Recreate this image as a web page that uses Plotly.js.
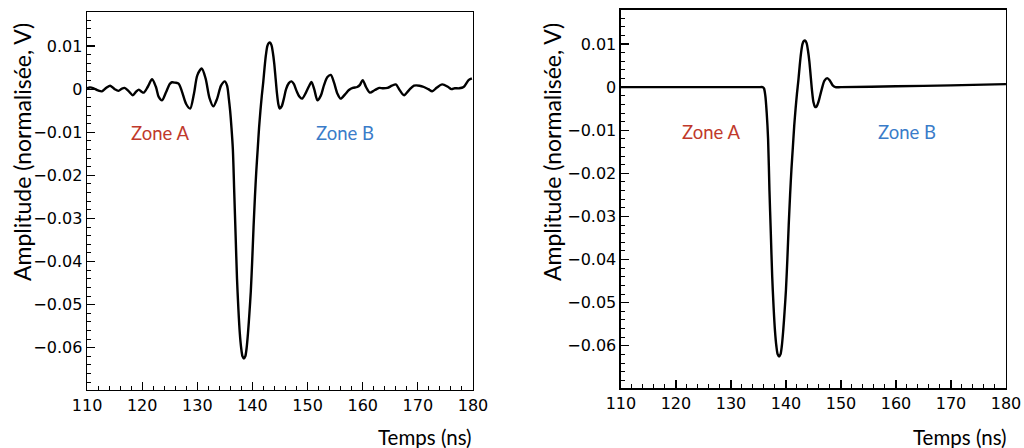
<!DOCTYPE html>
<html>
<head>
<meta charset="utf-8">
<script src="https://cdn.plot.ly/plotly-3.0.1.min.js"></script>
<style>html,body{margin:0;padding:0;background:#fff;}#chart{width:1024px;height:448px;}</style>
</head>
<body>
<div id="chart"></div>
<script>
// Left panel: noisy waveform (time in ns, amplitude in normalised V)
const timeLeft = [110.0,110.5,111.2,112.0,112.7,113.5,114.2,115.0,115.7,116.3,116.8,117.5,118.3,118.9,119.4,119.9,120.3,121.0,121.8,122.5,123.0,123.6,124.3,125.0,125.4,126.0,126.6,127.2,128.0,128.7,129.4,130.0,130.8,131.5,132.2,132.9,133.6,134.3,135.0,135.4,135.7,135.95,136.2,136.45,136.7,136.95,137.2,137.45,137.7,137.95,138.2,138.45,138.7,138.95,139.2,139.45,139.7,139.95,140.2,140.45,140.7,140.95,141.2,141.45,141.7,141.95,142.2,142.45,142.7,142.95,143.2,143.45,143.7,143.95,144.2,144.45,144.7,144.95,145.3,145.7,146.1,146.6,147.1,147.5,148.0,148.5,149.0,149.7,150.3,150.7,151.2,151.8,152.4,153.0,153.6,154.2,154.8,155.4,156.0,156.8,157.5,158.2,159.0,159.5,160.0,160.6,161.3,162.2,163.0,163.7,164.5,165.3,166.0,166.6,167.5,168.4,169.3,170.3,171.1,171.9,172.6,173.4,174.4,175.5,176.1,176.7,177.5,178.3,179.2,179.8,180.0];
const ampLeft = [0.0002,0.0004,0.0002,-0.0003,-0.0005,0.0003,0.0008,0.0000,-0.0004,0.0001,0.0003,-0.0004,-0.0014,-0.0006,-0.0001,-0.0006,-0.0008,0.0005,0.0023,0.0005,-0.0018,-0.0026,-0.0008,0.0012,0.0016,0.0015,0.0013,-0.0005,-0.0035,-0.0045,-0.0010,0.0032,0.0048,0.0025,-0.0020,-0.0040,-0.0022,0.0008,0.0018,0.0008,-0.0020,-0.0050,-0.0090,-0.0140,-0.0240,-0.0340,-0.0440,-0.0510,-0.0565,-0.0600,-0.0620,-0.0625,-0.0620,-0.0600,-0.0565,-0.0520,-0.0470,-0.0400,-0.0320,-0.0250,-0.0190,-0.0140,-0.0090,-0.0050,-0.0015,0.0015,0.0050,0.0080,0.0100,0.0107,0.0108,0.0102,0.0085,0.0060,0.0025,-0.0010,-0.0035,-0.0045,-0.0040,-0.0022,0.0000,0.0014,0.0018,0.0012,-0.0004,-0.0017,-0.0022,-0.0008,0.0008,0.0017,0.0000,-0.0026,-0.0015,0.0010,0.0028,0.0033,0.0015,-0.0010,-0.0022,-0.0012,-0.0002,0.0003,0.0005,0.0010,0.0021,0.0005,-0.0008,-0.0002,0.0003,0.0002,0.0003,0.0008,0.0011,0.0000,-0.0014,-0.0002,0.0008,0.0008,0.0005,0.0000,-0.0005,0.0003,0.0011,0.0005,0.0000,0.0002,0.0002,0.0005,0.0021,0.0025];

// Right panel: clean waveform
const timeRight = [110.0,120.0,130.0,135.0,135.75,136.0,136.25,136.5,136.75,137.0,137.25,137.5,137.75,138.0,138.25,138.5,138.75,139.0,139.25,139.5,139.75,140.0,140.25,140.5,140.75,141.0,141.25,141.5,141.75,142.0,142.25,142.5,142.75,143.0,143.25,143.5,143.75,144.0,144.25,144.5,144.75,145.0,145.25,145.5,145.75,146.0,146.5,147.0,147.5,148.0,148.5,149.0,150.0,160.0,170.0,180.0];
const ampRight = [0.0,0.0,0.0,0.0,0.0,-0.0003,-0.0020,-0.0060,-0.0120,-0.0240,-0.0340,-0.0440,-0.0510,-0.0565,-0.0600,-0.0620,-0.0625,-0.0620,-0.0600,-0.0565,-0.0520,-0.0470,-0.0400,-0.0320,-0.0250,-0.0190,-0.0140,-0.0090,-0.0050,-0.0015,0.0015,0.0050,0.0080,0.0100,0.0107,0.0108,0.0102,0.0085,0.0060,0.0025,-0.0010,-0.0035,-0.0045,-0.0046,-0.0040,-0.0030,-0.0005,0.0015,0.0021,0.0015,0.0004,0.0000,0.0000,0.0002,0.0004,0.0007];

const xTitle = "Temps (ns)";
const yTitle = "Amplitude (normalisée, V)";
const zoneLabels = ["Zone A", "Zone B"];
const zoneColors = ["#c0392b", "#3a7cc9"];

const tickFont = {family: "DejaVu Sans, sans-serif", size: 16, color: "#000"};
const xTitleFont = {family: "Lato", size: 20.5, color: "#000"};
const yTitleFont = {family: "Lato", size: 23, color: "#000"};
const zoneFont = {family: "Lato", size: 18.5};

function xAxis(domain, anchor) {
  return {
    domain: domain, anchor: anchor, range: [110, 180], dtick: 10, tick0: 110,
    ticks: "inside", ticklen: 8, tickwidth: 1.2, tickcolor: "#000",
    minor: {ticks: "inside", ticklen: 4, dtick: 2, tickwidth: 1, tickcolor: "#000"},
    showline: true, linecolor: "#000", linewidth: 1.5, mirror: true,
    showgrid: false, zeroline: false, tickfont: tickFont, fixedrange: true
  };
}
function yAxis(domain, anchor) {
  return {
    domain: domain, anchor: anchor, range: [-0.0698, 0.0179], dtick: 0.01, tick0: 0,
    ticks: "inside", ticklen: 8, tickwidth: 1.2, tickcolor: "#000",
    minor: {ticks: "inside", ticklen: 4, dtick: 0.002, tickwidth: 1, tickcolor: "#000"},
    showline: true, linecolor: "#000", linewidth: 1.5, mirror: true,
    showgrid: false, zeroline: false, tickfont: tickFont, fixedrange: true
  };
}

const lineStyle = {color: "#000", width: 2.4, shape: "spline", smoothing: 0.8};
const traces = [
  {x: timeLeft, y: ampLeft, type: "scatter", mode: "lines", line: lineStyle, xaxis: "x", yaxis: "y", hoverinfo: "skip"},
  {x: timeRight, y: ampRight, type: "scatter", mode: "lines", line: lineStyle, xaxis: "x2", yaxis: "y2", hoverinfo: "skip"}
];

const layout = {
  width: 1024, height: 448,
  margin: {l: 0, r: 0, t: 0, b: 0},
  font: {family: "DejaVu Sans, sans-serif", size: 16, color: "#000"},
  paper_bgcolor: "#fff", plot_bgcolor: "#fff",
  showlegend: false,
  xaxis: xAxis([0.0850, 0.4619], "y"),
  yaxis: yAxis([0.1295, 0.9732], "x"),
  xaxis2: xAxis([0.6064, 0.9824], "y2"),
  yaxis2: yAxis([0.1339, 0.9777], "x2"),
  annotations: [
    {xref: "paper", yref: "paper", x: 474/1024, y: 1 - 437/448, xanchor: "right", yanchor: "middle", text: xTitle, showarrow: false, font: xTitleFont},
    {xref: "paper", yref: "paper", x: 1009/1024, y: 1 - 437/448, xanchor: "right", yanchor: "middle", text: xTitle, showarrow: false, font: xTitleFont},
    {xref: "paper", yref: "paper", x: 22/1024, y: 1 - 152/448, xanchor: "center", yanchor: "middle", text: yTitle, textangle: -90, showarrow: false, font: yTitleFont},
    {xref: "paper", yref: "paper", x: 552/1024, y: 1 - 152/448, xanchor: "center", yanchor: "middle", text: yTitle, textangle: -90, showarrow: false, font: yTitleFont},
    {xref: "x", yref: "y", x: 123.2, y: -0.0102, text: zoneLabels[0], showarrow: false, font: Object.assign({color: zoneColors[0]}, zoneFont)},
    {xref: "x", yref: "y", x: 156.8, y: -0.0102, text: zoneLabels[1], showarrow: false, font: Object.assign({color: zoneColors[1]}, zoneFont)},
    {xref: "x2", yref: "y2", x: 126.4, y: -0.0105, text: zoneLabels[0], showarrow: false, font: Object.assign({color: zoneColors[0]}, zoneFont)},
    {xref: "x2", yref: "y2", x: 162.0, y: -0.0105, text: zoneLabels[1], showarrow: false, font: Object.assign({color: zoneColors[1]}, zoneFont)}
  ]
};

Plotly.newPlot("chart", traces, layout, {displayModeBar: false, staticPlot: true});
</script>
</body>
</html>
